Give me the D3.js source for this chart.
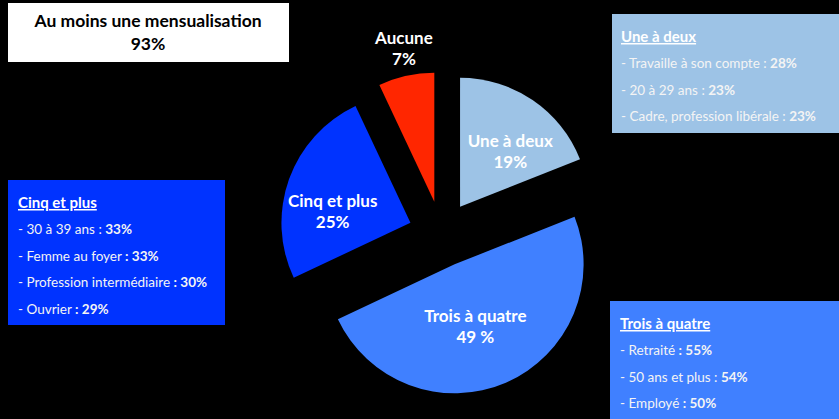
<!DOCTYPE html>
<html lang="fr">
<head>
    <meta charset="UTF-8">
    <title>Mensualisation</title>
    <style>
        html, body { margin: 0; padding: 0; background: #000; }
        svg { display: block; font-family: Lato, "Open Sans", sans-serif; }
    </style>
</head>
<body>
    <div id="chart"></div>
    <script src="https://cdn.jsdelivr.net/npm/d3@7"></script>
    <script>
        // Données
        const categories = ["Une à deux", "Trois à quatre", "Cinq et plus", "Aucune"];
        const values = [19, 49, 25, 7];
        const valueLabels = ["19%", "49 %", "25%", "7%"];

        const summaryTitle = "Au moins une mensualisation";
        const summaryValue = "93%";

        const detailTitles = ["Une à deux", "Trois à quatre", "Cinq et plus"];
        // texte normal / texte en gras pour chaque ligne
        const detailPlain = [
            ["- Travaille à son compte : ", "- 20 à 29 ans : ", "- Cadre, profession libérale : "],
            ["- Retraité ", "- 50 ans et plus : ", "- Employé "],
            ["- 30 à 39 ans : ", "- Femme au foyer ", "- Profession intermédiaire ", "- Ouvrier "]
        ];
        const detailBold = [
            ["28%", "23%", "23%"],
            [": 55%", "54%", ": 50%"],
            ["33%", ": 33%", ": 30%", ": 29%"]
        ];

        // Mise en page
        const WIDTH = 839, HEIGHT = 419;
        const CENTER = [441.5, 234];
        const RADIUS = 129;
        const EXPLODE = 33;
        const COLORS = ["#9dc3e6", "#4080ff", "#0033ff", "#ff2600"];
        // position des étiquettes : rayon et angle (degrés) depuis le centre de la part
        const LABEL_POS = [[71, 45], [71, 163], [78, 274.5], [151, 348.4]];
        const BOXES = [
            { x: 612, y: 14, w: 240, h: 119, color: "#9dc3e6", tx: 621 },
            { x: 610, y: 301, w: 240, h: 130, color: "#4080ff", tx: 620 },
            { x: 8, y: 180, w: 217, h: 145, color: "#0033ff", tx: 18 }
        ];

        const svg = d3.select("#chart")
            .append("svg")
            .attr("width", WIDTH)
            .attr("height", HEIGHT);

        svg.append("rect")
            .attr("width", WIDTH)
            .attr("height", HEIGHT)
            .attr("fill", "#000");

        // Camembert éclaté
        const pie = d3.pie().sort(null).value(d => d);
        const arcs = pie(values);
        const arc = d3.arc().innerRadius(0).outerRadius(RADIUS);

        const slices = svg.append("g")
            .attr("transform", `translate(${CENTER[0]}, ${CENTER[1]})`)
            .selectAll("g")
            .data(arcs)
            .enter()
            .append("g")
            .attr("transform", d => {
                const mid = (d.startAngle + d.endAngle) / 2;
                return `translate(${EXPLODE * Math.sin(mid)}, ${-EXPLODE * Math.cos(mid)})`;
            });

        slices.append("path")
            .attr("d", arc)
            .attr("fill", (d, i) => COLORS[i]);

        const labels = slices.append("text")
            .attr("text-anchor", "middle")
            .attr("fill", "#fff")
            .attr("font-weight", "bold")
            .attr("font-size", 17)
            .attr("transform", (d, i) => {
                const a = LABEL_POS[i][1] * Math.PI / 180;
                return `translate(${LABEL_POS[i][0] * Math.sin(a)}, ${-LABEL_POS[i][0] * Math.cos(a)})`;
            });
        labels.append("tspan").attr("x", 0).attr("y", -10).text((d, i) => categories[i]);
        labels.append("tspan").attr("x", 0).attr("y", 11).text((d, i) => valueLabels[i]);

        // Encadré blanc
        svg.append("rect")
            .attr("x", 8).attr("y", 3)
            .attr("width", 281).attr("height", 59)
            .attr("fill", "#fff");
        svg.append("text")
            .attr("x", 148).attr("y", 27)
            .attr("text-anchor", "middle")
            .attr("font-weight", "bold")
            .attr("font-size", 17.5)
            .attr("fill", "#000")
            .text(summaryTitle);
        svg.append("text")
            .attr("x", 148).attr("y", 50)
            .attr("text-anchor", "middle")
            .attr("font-weight", "bold")
            .attr("font-size", 17.5)
            .attr("fill", "#000")
            .text(summaryValue);

        // Encadrés de détail
        BOXES.forEach((b, k) => {
            const g = svg.append("g");
            g.append("rect")
                .attr("x", b.x).attr("y", b.y)
                .attr("width", b.w).attr("height", b.h)
                .attr("fill", b.color);
            g.append("text")
                .attr("x", b.tx).attr("y", b.y + 28)
                .attr("fill", "#fff")
                .attr("font-weight", "bold")
                .attr("font-size", 15)
                .attr("text-decoration", "underline")
                .text(detailTitles[k]);
            detailPlain[k].forEach((p, j) => {
                const t = g.append("text")
                    .attr("x", b.tx).attr("y", b.y + 54 + j * 26.7)
                    .attr("fill", "#f4f4f4")
                    .attr("font-size", 13.5);
                t.append("tspan").text(p);
                t.append("tspan").attr("font-weight", "bold").text(detailBold[k][j]);
            });
        });
    </script>
</body>
</html>
